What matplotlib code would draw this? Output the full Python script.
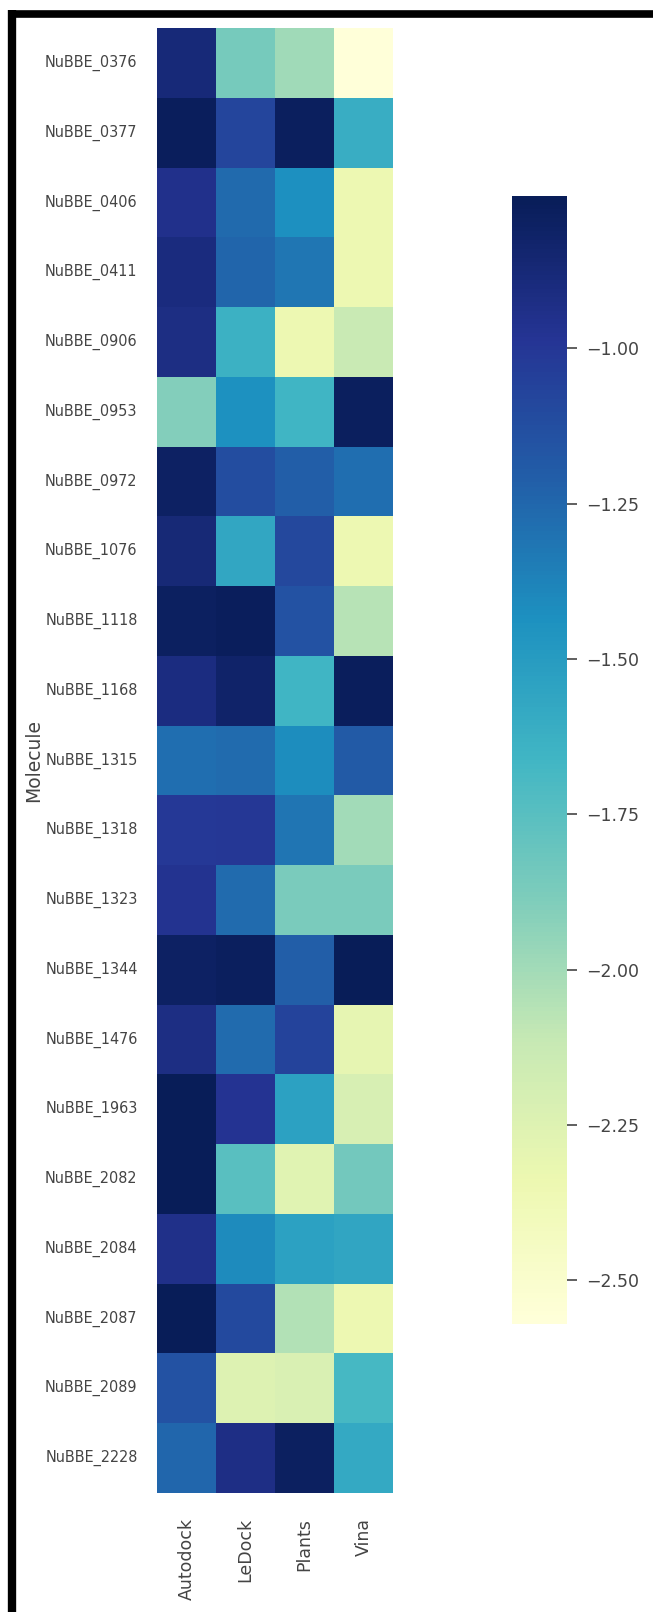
import numpy as np
import pandas as pd
import matplotlib
matplotlib.use("Agg")
import matplotlib.pyplot as plt
from matplotlib.lines import Line2D
import seaborn as sns

molecules = ["NuBBE_0376", "NuBBE_0377", "NuBBE_0406", "NuBBE_0411", "NuBBE_0906",
             "NuBBE_0953", "NuBBE_0972", "NuBBE_1076", "NuBBE_1118", "NuBBE_1168",
             "NuBBE_1315", "NuBBE_1318", "NuBBE_1323", "NuBBE_1344", "NuBBE_1476",
             "NuBBE_1963", "NuBBE_2082", "NuBBE_2084", "NuBBE_2087", "NuBBE_2089",
             "NuBBE_2228"]
programs = ["Autodock", "LeDock", "Plants", "Vina"]

autodock = [-0.88, -0.77, -0.95, -0.90, -0.92, -1.90, -0.80, -0.87, -0.79, -0.91, -1.28,
            -1.01, -0.97, -0.80, -0.92, -0.76, -0.755, -0.94, -0.76, -1.15, -1.25]
ledock = [-1.86, -1.08, -1.26, -1.24, -1.63, -1.44, -1.12, -1.57, -0.77, -0.82, -1.27,
          -1.00, -1.27, -0.78, -1.27, -0.98, -1.75, -1.41, -1.10, -2.25, -0.93]
plants = [-1.99, -0.78, -1.43, -1.32, -2.35, -1.66, -1.21, -1.09, -1.15, -1.66, -1.42,
          -1.31, -1.87, -1.21, -1.06, -1.53, -2.26, -1.53, -2.05, -2.22, -0.79]
vina = [-2.57, -1.61, -2.35, -2.35, -2.13, -0.78, -1.28, -2.35, -2.06, -0.77, -1.19,
        -2.00, -1.87, -0.76, -2.30, -2.21, -1.84, -1.56, -2.35, -1.68, -1.58]

df = pd.DataFrame({"Autodock": autodock, "LeDock": ledock, "Plants": plants, "Vina": vina},
                  index=pd.Index(molecules, name="Molecule"))

W, H = 653, 1612
fig = plt.figure(figsize=(W / 100, H / 100), dpi=100)
ax = fig.add_axes([157 / W, 1 - 1493 / H, 236 / W, 1465 / H])
cax = fig.add_axes([512 / W, 1 - 1324 / H, 55 / W, 1128 / H])

sns.heatmap(df, cmap="YlGnBu", ax=ax, cbar_ax=cax)

txt = "#444444"
ax.set_ylabel("Molecule", fontsize=13.5, color=txt, labelpad=1)
ax.set_xlabel("")
ax.set_yticks(np.arange(len(molecules)) + 0.5)
ax.set_yticklabels(molecules, rotation=0, fontsize=11.5, color=txt, fontstretch="condensed")
ax.set_xticks(np.arange(len(programs)) + 0.5)
ax.set_xticklabels(programs, rotation=90, fontsize=12.5, color=txt)
ax.tick_params(axis="y", length=0, pad=14)
ax.tick_params(axis="x", length=0, pad=18)

cax.set_yticks([-1.0, -1.25, -1.5, -1.75, -2.0, -2.25, -2.5])
cax.set_yticklabels(["\u22121.00", "\u22121.25", "\u22121.50", "\u22121.75",
                     "\u22122.00", "\u22122.25", "\u22122.50"])
cax.tick_params(axis="y", length=7, width=1.2, pad=7, labelsize=12.5, colors=txt)

# black frame (only top and left edges visible in the reference crop)
fig.add_artist(Line2D([12 / W, 12 / W], [0, 1 - 10 / H], transform=fig.transFigure,
                      color="black", lw=6, solid_capstyle="butt"))
fig.add_artist(Line2D([9 / W, 1], [1 - 13.5 / H, 1 - 13.5 / H], transform=fig.transFigure,
                      color="black", lw=5.5, solid_capstyle="butt"))

fig.savefig("out.png", dpi=100)
